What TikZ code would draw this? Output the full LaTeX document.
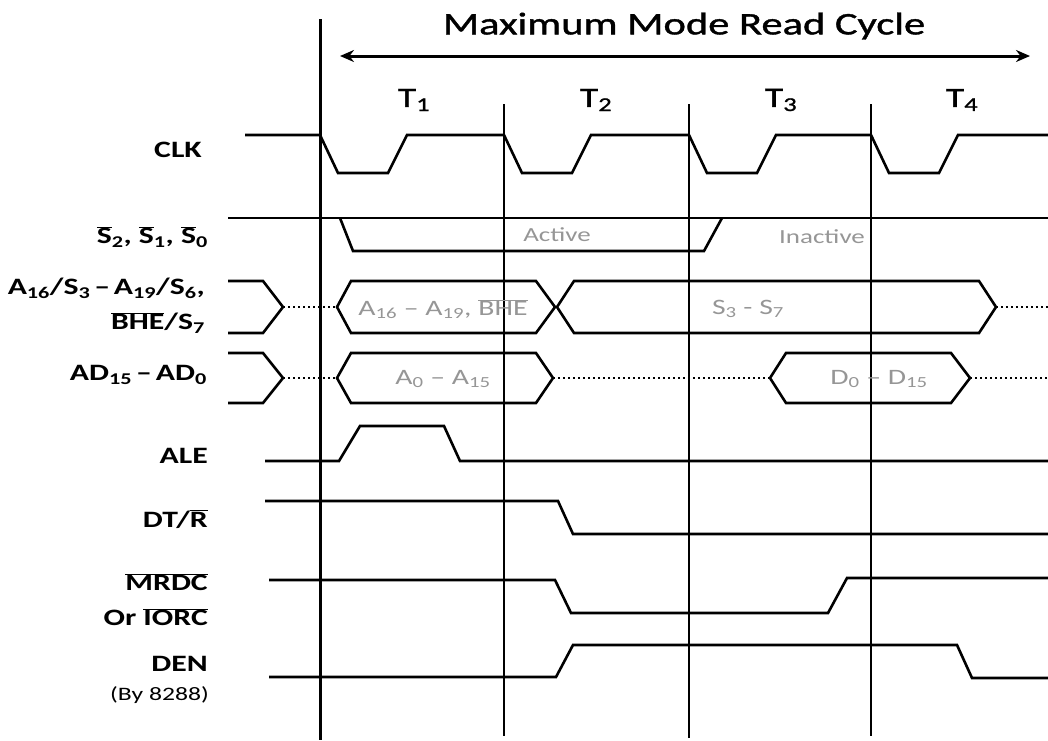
\documentclass[tikz,border=0pt]{standalone}
\usepackage{fontspec}
\setmainfont{Carlito}[FakeStretch=1.35]
\newfontfamily\titlefont{Carlito}[FakeStretch=1.35,FakeBold=1.2]
\usetikzlibrary{arrows.meta}
\definecolor{txtgray}{RGB}{150,150,150}
\newcommand\ovl[1]{$\overline{\mbox{#1}}$}
\begin{document}
\begin{tikzpicture}[x=1pt,y=-1pt,
  sig/.style={line width=2.6pt, line join=miter},
  dots/.style={line width=2pt, dash pattern=on 2pt off 3pt},
  grid/.style={line width=1.2pt},
  lbl/.style={anchor=east, font=\fontsize{23.5}{26}\selectfont\bfseries, inner sep=0pt, align=right},
  small/.style={anchor=east, font=\fontsize{19}{22}\selectfont, inner sep=0pt},
  gtxt/.style={text=txtgray, font=\fontsize{22}{26}\selectfont, inner sep=0pt},
  gsmall/.style={text=txtgray, font=\fontsize{20}{24}\selectfont, inner sep=0pt},
  tlbl/.style={font=\titlefont\fontsize{28}{32}\selectfont, inner sep=0pt}]
\useasboundingbox (0,0) rectangle (1048,740);

% title and arrow
\node[font=\titlefont\fontsize{31.5}{36}\selectfont, inner sep=0pt] (title) at (684,26) {Maximum Mode Read Cycle};
\coordinate (arL) at (340,56);
\coordinate (arR) at (1030,56);
\draw[line width=3pt, {Stealth[length=14pt,width=12pt]}-{Stealth[length=14pt,width=12pt]}] (arL) -- (arR);

% T labels
\node[tlbl] (t1) at (414,100) {T\textsubscript{1}};
\node[tlbl] (t2) at (596,100) {T\textsubscript{2}};
\node[tlbl] (t3) at (781,100) {T\textsubscript{3}};
\node[tlbl] (t4) at (962,100) {T\textsubscript{4}};

% vertical lines
\draw[line width=3pt] (320,19) -- (320,740);
\draw[grid] (504,104) -- (504,736);
\draw[grid] (689,104) -- (689,738);
\draw[grid] (871,104) -- (871,736);

% labels
\node[lbl] (lclk) at (202,150) {CLK};
\node[lbl] (ls) at (208,237) {\ovl{S}\textsubscript{2}, \ovl{S}\textsubscript{1}, \ovl{S}\textsubscript{0}};
\node[lbl] (la1) at (205,288) {A\textsubscript{16}/S\textsubscript{3}\,--\,A\textsubscript{19}/S\textsubscript{6},};
\node[lbl] (la2) at (205,323) {\ovl{BHE}/S\textsubscript{7}};
\node[lbl] (lad) at (207,375) {AD\textsubscript{15}\,--\,AD\textsubscript{0}};
\node[lbl] (lale) at (208,456) {ALE};
\node[lbl] (ldt) at (208,519) {DT/\ovl{R}};
\node[lbl] (lmr) at (208,582) {\ovl{MRDC}};
\node[lbl] (lio) at (208,617) {Or \ovl{IORC}};
\node[lbl] (lden) at (208,664) {DEN};
\node[small] (lby) at (209,695) {(By 8288)};

% CLK
\draw[sig] (245,135) -- (320,135) -- (338,173) -- (388,173) -- (407,135) -- (504,135)
  -- (522,173) -- (572,173) -- (591,135) -- (689,135) -- (707,173) -- (757,173)
  -- (776,135) -- (871,135) -- (889,173) -- (939,173) -- (958,135) -- (1048,135);

% status
\draw[sig] (228,218) -- (1048,218);
\draw[sig] (340,218) -- (353,251) -- (704,251) -- (722,218);
\node[gsmall] (act) at (557,235) {Active};
\node[gsmall] (inact) at (822,237) {Inactive};

% A16 bus
\draw[sig] (228,281) -- (263,281) -- (283,307) -- (263,333) -- (228,333);
\draw[dots] (283,307) -- (337,307);
\draw[sig] (337,307) -- (351,281) -- (536,281) -- (555,307) -- (536,333) -- (351,333) -- cycle;
\draw[sig] (557,307) -- (574,281) -- (979,281) -- (996,307) -- (979,333) -- (574,333) -- cycle;
\draw[dots] (996,307) -- (1048,307);
\node[gtxt] (ta) at (443,309) {A\textsubscript{16} -- A\textsubscript{19}, \ovl{BHE}};
\node[gtxt] (ts) at (748,309) {S\textsubscript{3} - S\textsubscript{7}};

% AD bus
\draw[sig] (228,353) -- (263,353) -- (283,378) -- (263,403) -- (228,403);
\draw[dots] (283,378) -- (337,378);
\draw[sig] (337,378) -- (351,353) -- (536,353) -- (553,378) -- (536,403) -- (351,403) -- cycle;
\draw[dots] (553,378) -- (770,378);
\draw[sig] (770,378) -- (786,353) -- (951,353) -- (970,378) -- (951,403) -- (786,403) -- cycle;
\draw[dots] (970,378) -- (1048,378);
\node[gtxt] (tad) at (443,379) {A\textsubscript{0} -- A\textsubscript{15}};
\node[gtxt] (td) at (879,379) {D\textsubscript{0} -- D\textsubscript{15}};

% ALE
\draw[sig] (265,461) -- (339,461) -- (360,426) -- (444,426) -- (460,461) -- (1048,461);
% DT/R
\draw[sig] (265,501) -- (558,501) -- (573,534) -- (1048,534);
% MRDC
\draw[sig] (269,580) -- (555,580) -- (571,613) -- (828,613) -- (847,578) -- (1048,578);
% DEN
\draw[sig] (269,677) -- (556,677) -- (573,645) -- (957,645) -- (972,678) -- (1048,678);
\end{tikzpicture}
\end{document}
